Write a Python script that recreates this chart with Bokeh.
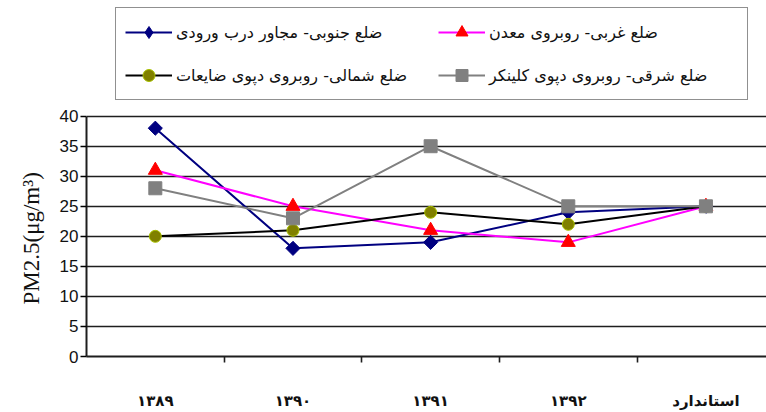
import math
from bokeh.plotting import figure
from bokeh.models import Range1d, FixedTicker, Legend, LegendItem, Title
from bokeh.embed import file_html
from bokeh.resources import INLINE

categories = ["۱۳۸۹", "۱۳۹۰", "۱۳۹۱", "۱۳۹۲", "استاندارد"]
south = [38, 18, 19, 24, 25]
west = [31, 25, 21, 19, 25]
north = [20, 21, 24, 22, 25]
east = [28, 23, 35, 25, 25]
names = ["ضلع جنوبی- مجاور درب ورودی", "ضلع غربی- روبروی معدن",
         "ضلع شمالی- روبروی دپوی ضایعات", "ضلع شرقی- روبروی دپوی کلینکر"]
y_ticks = [0, 5, 10, 15, 20, 25, 30, 35, 40]
y_title = "PM2.5(μg/m³)"

xs = [i + 0.5 for i in range(len(categories))]

H, BOTTOM = 412, 55
frame_h = H - BOTTOM
p = figure(width=766, height=H, output_backend="svg", toolbar_location=None,
           x_range=Range1d(0, 4.94), y_range=Range1d(0, 40 * frame_h / 241),
           min_border_left=86, min_border_right=0, min_border_top=0,
           min_border_bottom=BOTTOM)
p.outline_line_color = None
p.background_fill_color = "white"

# grid
p.xgrid.visible = False
p.ygrid.ticker = FixedTicker(ticks=y_ticks)
p.ygrid.grid_line_color = "#1e1e1e"
p.ygrid.grid_line_width = 1.6

# y axis
p.yaxis.ticker = FixedTicker(ticks=y_ticks)
p.yaxis.bounds = (0, 40)
p.yaxis.axis_line_color = "#1e1e1e"
p.yaxis.axis_line_width = 2
p.yaxis.major_tick_out = 6
p.yaxis.major_tick_in = 0
p.yaxis.major_tick_line_width = 1.6
p.yaxis.minor_tick_line_color = None
p.yaxis.major_label_text_font = "Liberation Sans"
p.yaxis.major_label_text_font_size = "17px"
p.yaxis.major_label_text_color = "#111"
p.yaxis.major_label_standoff = 2

t = Title(text=y_title, align="left", offset=52, standoff=26,
          text_font="Liberation Serif", text_font_size="23px",
          text_font_style="normal", text_color="#111")
p.add_layout(t, "left")

# x axis: labels at centres, ticks at boundaries
p.xaxis.ticker = FixedTicker(ticks=xs, minor_ticks=[1, 2, 3, 4])
p.xaxis.major_label_overrides = {x: c for x, c in zip(xs, categories)}
p.xaxis.axis_line_color = "#1e1e1e"
p.xaxis.axis_line_width = 2
p.xaxis.major_tick_out = 0
p.xaxis.major_tick_in = 0
p.xaxis.minor_tick_out = 6
p.xaxis.minor_tick_in = 0
p.xaxis.minor_tick_line_color = "#1e1e1e"
p.xaxis.minor_tick_line_width = 1.6
p.xaxis.major_label_text_font = "DejaVu Sans"
p.xaxis.major_label_text_font_size = "15px"
p.xaxis.major_label_text_font_style = "bold"
p.xaxis.major_label_text_color = "#111"
p.xaxis.major_label_standoff = 29

# south (blue)
l1 = p.line(xs, south, line_color="#000080", line_width=2)
m1 = p.scatter(xs, south, marker="square", angle=math.pi / 4, size=10,
               fill_color="#000080", line_color="#000080")
# legend-only diamond (size 0 in the plot)
k1 = p.scatter(xs, south, marker="diamond", size=0,
               fill_color="#000080", line_color="#000080")
# west (magenta / red)
l2 = p.line(xs, west, line_color="#FF00FF", line_width=2)
m2 = p.scatter(xs, west, marker="triangle", size=14, fill_color="#FF0000", line_color="#FF0000")
# north (black / olive)
l3 = p.line(xs, north, line_color="#000000", line_width=2)
m3 = p.scatter(xs, north, marker="circle", size=12, fill_color="#808000", line_color="#A8C000", line_width=1)
# east (gray)
l4 = p.line(xs, east, line_color="#808080", line_width=2)
m4 = p.scatter(xs, east, marker="square", size=13, fill_color="#808080", line_color="#808080")

items = [LegendItem(label=names[0], renderers=[l1, k1]),
         LegendItem(label=names[1], renderers=[l2, m2]),
         LegendItem(label=names[2], renderers=[l3, m3]),
         LegendItem(label=names[3], renderers=[l4, m4])]

legend = Legend(items=items, location=(29, frame_h - 101), orientation="horizontal", ncols=2,
                glyph_width=47, glyph_height=30, label_height=30, label_width=249,
                label_standoff=4, spacing=13, padding=9, margin=0,
                label_text_font="DejaVu Sans", label_text_font_size="16px",
                label_text_color="#111",
                border_line_color="#222", border_line_width=1.5,
                background_fill_color="white", background_fill_alpha=1)
p.add_layout(legend, "center")

open("out.html", "w").write(file_html(p, INLINE))
